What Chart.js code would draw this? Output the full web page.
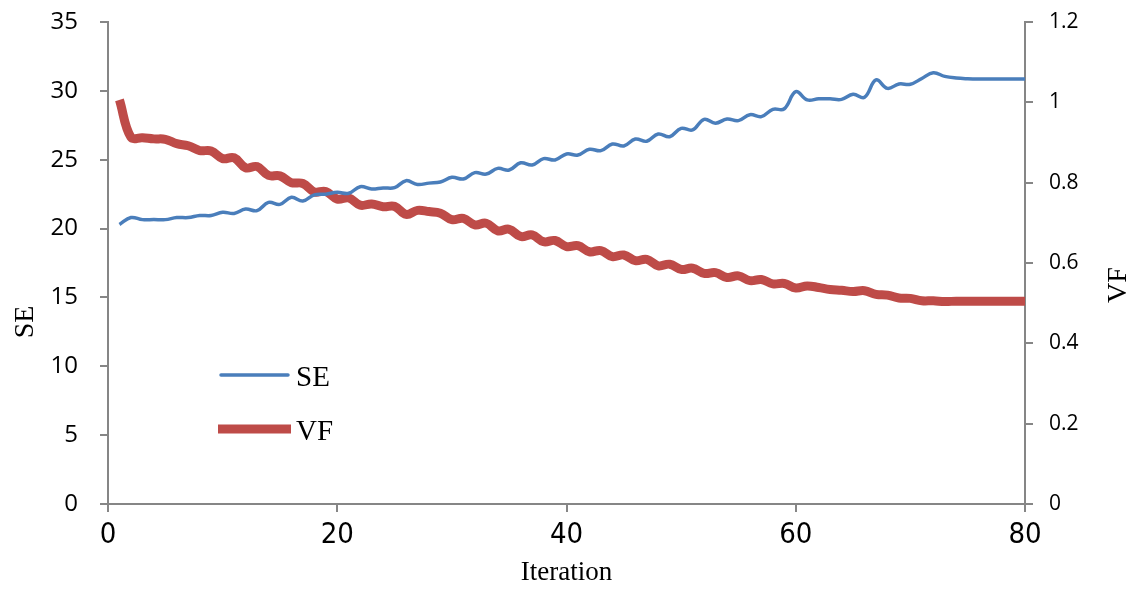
<!DOCTYPE html>
<html><head><meta charset="utf-8">
<script src="https://cdn.jsdelivr.net/npm/chart.js@4/dist/chart.umd.min.js"></script>
<style>html,body{margin:0;padding:0;background:#fff;}#wrap{width:1139px;height:592px;}</style>
</head><body><div id="wrap"><canvas id="c" width="1139" height="592"></canvas></div>
<script>
const iterations = [1,2,3,4,5,6,7,8,9,10,11,12,13,14,15,16,17,18,19,20,
  21,22,23,24,25,26,27,28,29,30,31,32,33,34,35,36,37,38,39,40,
  41,42,43,44,45,46,47,48,49,50,51,52,53,54,55,56,57,58,59,60,
  61,62,63,64,65,66,67,68,69,70,71,72,73,74,75,76,77,78,79,80];
const seValues = [20.3,20.8,20.65,20.65,20.65,20.8,20.8,20.95,20.95,21.18,
  21.1,21.42,21.3,21.9,21.76,22.27,22.0,22.45,22.5,22.63,
  22.56,23.04,22.87,22.95,22.97,23.48,23.2,23.3,23.38,23.72,
  23.6,24.06,23.96,24.37,24.25,24.78,24.62,25.08,24.98,25.42,
  25.34,25.76,25.66,26.14,26.0,26.5,26.34,26.87,26.67,27.28,
  27.16,27.93,27.65,27.96,27.84,28.27,28.13,28.66,28.7,29.94,
  29.34,29.42,29.42,29.38,29.75,29.53,30.79,30.18,30.5,30.48,
  30.9,31.32,31.05,30.93,30.88,30.86,30.86,30.86,30.86,30.86];
const vfValues = [1.006,0.913,0.912,0.909,0.908,0.897,0.892,0.880,0.879,0.860,
  0.862,0.837,0.840,0.818,0.817,0.800,0.798,0.777,0.778,0.759,
  0.762,0.744,0.747,0.740,0.741,0.721,0.731,0.728,0.724,0.708,
  0.711,0.695,0.699,0.680,0.684,0.666,0.670,0.653,0.656,0.641,
  0.643,0.628,0.631,0.616,0.620,0.606,0.609,0.593,0.597,0.584,
  0.587,0.574,0.576,0.564,0.568,0.556,0.559,0.548,0.549,0.538,
  0.543,0.539,0.534,0.532,0.529,0.531,0.522,0.520,0.513,0.512,
  0.506,0.506,0.504,0.505,0.505,0.505,0.505,0.505,0.505,0.505];
const xTickValues = [0,20,40,60,80];
const seTickValues = [0,5,10,15,20,25,30,35];
const vfTickValues = [0,0.2,0.4,0.6,0.8,1,1.2];
const seriesNames = ['SE','VF'];
const xTitle = 'Iteration';
const leftTitle = 'SE';
const rightTitle = 'VF';

const AXIS_COLOR = '#868686';
const SERIF = "'Liberation Serif','DejaVu Serif',serif";

const overlay = {
  id: 'overlay',
  afterDraw(chart) {
    const ctx = chart.ctx;
    ctx.save();
    ctx.fillStyle = '#000';
    ctx.font = '28px ' + SERIF;
    ctx.textAlign = 'center';
    ctx.textBaseline = 'middle';
    ctx.save(); ctx.translate(26, 322); ctx.rotate(-Math.PI/2); ctx.fillText(leftTitle, 0, 0); ctx.restore();
    ctx.save(); ctx.translate(1119, 285); ctx.rotate(-Math.PI/2); ctx.fillText(rightTitle, 0, 0); ctx.restore();
    const items = [{y: 375, x0: 221, x1: 288}, {y: 429, x0: 218, x1: 291}];
    chart.data.datasets.forEach((ds, i) => {
      const it = items[i];
      ctx.strokeStyle = ds.borderColor;
      ctx.lineWidth = ds.borderWidth;
      ctx.lineCap = i === 0 ? 'round' : 'butt';
      ctx.beginPath(); ctx.moveTo(it.x0, it.y); ctx.lineTo(it.x1, it.y); ctx.stroke();
      ctx.fillStyle = '#000';
      ctx.font = '29px ' + SERIF;
      ctx.textAlign = 'left';
      ctx.textBaseline = 'middle';
      ctx.fillText(ds.label, 296, it.y + 3);
    });
    ctx.restore();
  }
};

const vFit = w => s => { s.width = w; s.paddingTop = 0; s.paddingBottom = 0; };

new Chart(document.getElementById('c'), {
  type: 'line',
  data: {
    datasets: [
      { label: seriesNames[0], yAxisID: 'y', order: 0,
        data: iterations.map((x, i) => ({x, y: seValues[i]})),
        borderColor: '#4a7ebb', borderWidth: 3.5, pointRadius: 0, tension: 0.4, fill: false },
      { label: seriesNames[1], yAxisID: 'y1', order: 1,
        data: iterations.map((x, i) => ({x, y: vfValues[i]})),
        borderColor: '#be4b48', borderWidth: 9, pointRadius: 0, tension: 0.4, fill: false,
        borderJoinStyle: 'miter', borderCapStyle: 'butt' }
    ]
  },
  options: {
    responsive: false, animation: false, devicePixelRatio: 1,
    layout: { padding: { top: 22, left: 0, right: 0, bottom: 0 } },
    plugins: { legend: { display: false }, tooltip: { enabled: false } },
    scales: {
      x: {
        type: 'linear', min: 0, max: 80,
        afterBuildTicks: s => { s.ticks = xTickValues.map(v => ({value: v})); },
        afterFit: s => { s.height = 88; s.paddingLeft = 0; s.paddingRight = 0; },
        ticks: { color: '#000', padding: 6, maxRotation: 0,
          font: { family: "'Liberation Sans Narrow','DejaVu Sans Condensed','Liberation Sans',sans-serif", size: 29 } },
        grid: { display: true, drawOnChartArea: false, drawTicks: true, tickLength: 8, color: AXIS_COLOR, lineWidth: 2 },
        border: { display: true, color: AXIS_COLOR, width: 2 },
        title: { display: true, text: xTitle, color: '#000', font: { family: SERIF, size: 27 }, padding: { top: 0, bottom: 3 } }
      },
      y: {
        position: 'left', min: 0, max: 35,
        afterBuildTicks: s => { s.ticks = seTickValues.map(v => ({value: v})); },
        afterFit: vFit(108),
        ticks: { color: '#000', padding: 22, font: { family: "'Open Sans','Noto Sans',sans-serif", size: 24 } },
        grid: { display: true, drawOnChartArea: false, drawTicks: true, tickLength: 8, color: AXIS_COLOR, lineWidth: 2 },
        border: { display: true, color: AXIS_COLOR, width: 2 }
      },
      y1: {
        position: 'right', min: 0, max: 1.2,
        afterBuildTicks: s => { s.ticks = vfTickValues.map(v => ({value: v})); },
        afterFit: vFit(114),
        ticks: { color: '#000', padding: 16, font: { family: "'Open Sans','Noto Sans',sans-serif", size: 21 },
          callback: v => String(+Number(v).toFixed(1)) },
        grid: { display: true, drawOnChartArea: false, drawTicks: true, tickLength: 8, color: AXIS_COLOR, lineWidth: 2 },
        border: { display: true, color: AXIS_COLOR, width: 2 }
      }
    }
  },
  plugins: [overlay]
});
</script>
</body></html>
